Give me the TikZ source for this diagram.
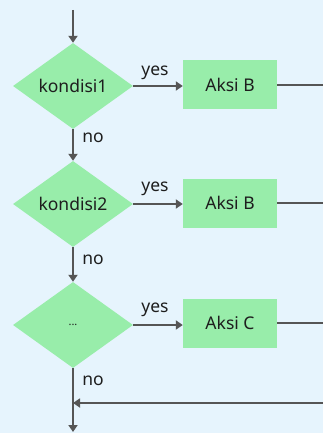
\documentclass[tikz,border=0pt]{standalone}
\usepackage{fontspec}
\setmainfont{Noto Sans}
\usetikzlibrary{shapes.geometric,arrows.meta}
\definecolor{bgc}{HTML}{E6F4FD}
\definecolor{gr}{HTML}{98EDAA}
\definecolor{ln}{HTML}{555555}
\definecolor{tx}{HTML}{1E1E1E}
\tikzset{
  dec/.style={diamond,fill=gr,minimum width=120pt,minimum height=86pt,aspect=1.4,inner sep=0pt,text=tx,font=\fontsize{17.5}{20}\selectfont},
  act/.style={rectangle,fill=gr,minimum width=94pt,minimum height=49pt,inner sep=0pt,text=tx,font=\fontsize{17.5}{20}\selectfont},
  con/.style={draw=ln,line width=2pt,-{Triangle[length=7pt,width=9pt]}},
  lin/.style={draw=ln,line width=2pt},
  lbl/.style={font=\fontsize{17.5}{20}\selectfont,inner sep=0pt,text=tx}
}
\begin{document}
\begin{tikzpicture}[x=1pt,y=-1pt]
\fill[bgc] (0,0) rectangle (323,433);
\useasboundingbox (0,0) rectangle (323,433);
\node[dec] (d1) at (73,86) {kondisi1};
\node[dec] (d2) at (73,204) {kondisi2};
\node[dec] (d3) at (73,325) {\fontsize{11}{13}\selectfont ...};
\node[act] (a1) at (230,85) {Aksi B};
\node[act] (a2) at (230,203) {Aksi B};
\node[act] (a3) at (230,323) {Aksi C};
\coordinate (top) at (73,10);
\coordinate (r1) at (323,85);
\coordinate (r2) at (323,203);
\coordinate (r3) at (323,323);
\coordinate (rb) at (323,403);
\coordinate (m) at (73,403);
\coordinate (end) at (73,432);
\draw[con] (top) -- (d1.north);
\draw[con] (d1.south) -- (d2.north);
\draw[con] (d2.south) -- (d3.north);
\draw[con] (d3.south) -- (end);
\draw[con] (d1.east) -- (a1.west |- d1.east);
\draw[con] (d2.east) -- (a2.west |- d2.east);
\draw[con] (d3.east) -- (a3.west |- d3.east);
\draw[lin] (a1.east) -- (r1);
\draw[lin] (a2.east) -- (r2);
\draw[lin] (a3.east) -- (r3);
\draw[con] (rb) -- (m);
\node[lbl] (y1) at (155,73) {yes};
\node[lbl] (y2) at (155,189) {yes};
\node[lbl] (y3) at (155,310) {yes};
\node[lbl] (n1) at (93,138) {no};
\node[lbl] (n2) at (93,260) {no};
\node[lbl] (n3) at (93,381) {no};
\end{tikzpicture}
\end{document}
